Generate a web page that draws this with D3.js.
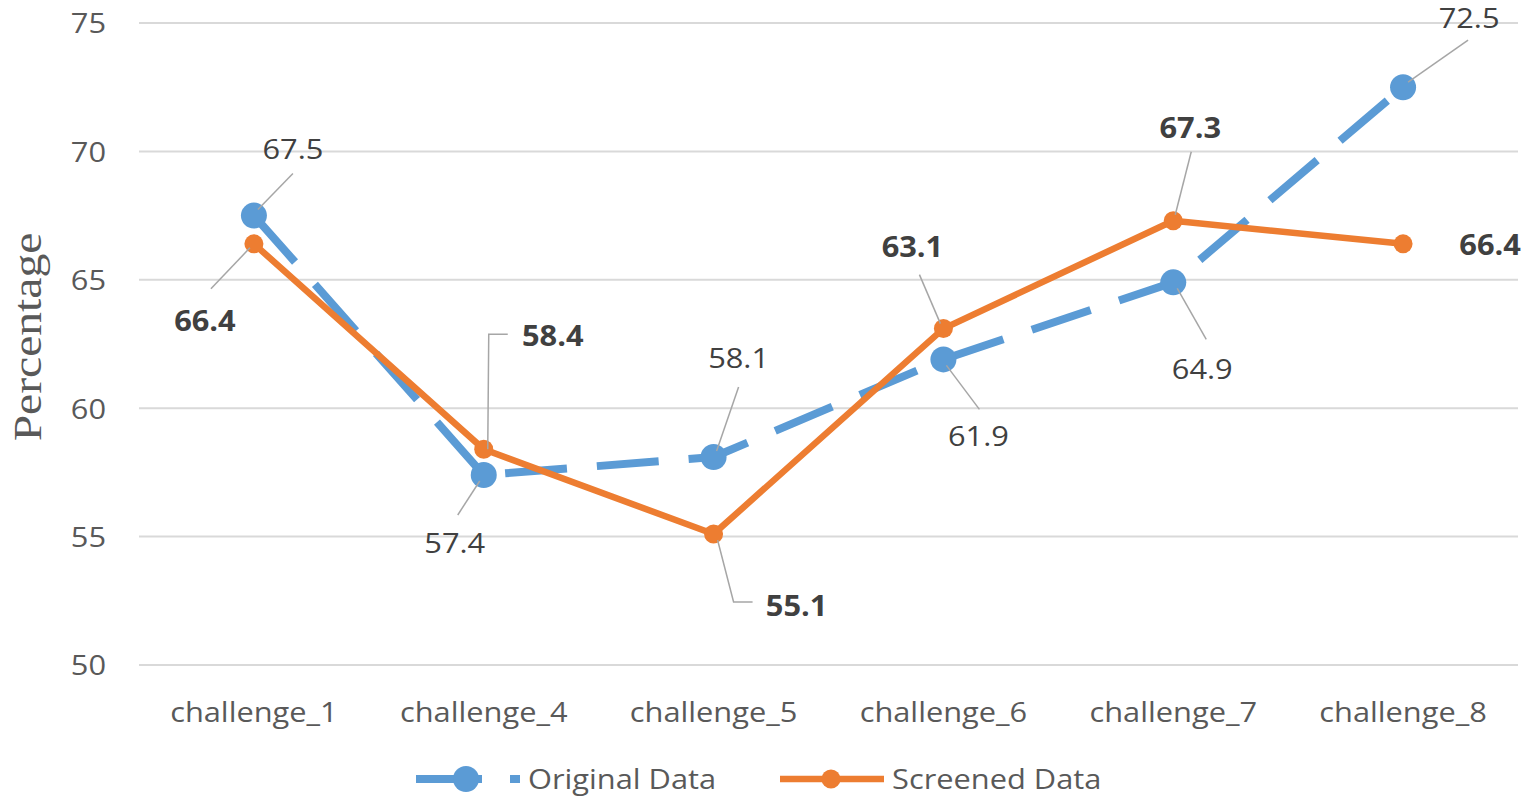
<!DOCTYPE html>
<html lang="en">
<head>
  <meta charset="UTF-8" />
  <title>Original vs Screened Data</title>
  <script src="https://d3js.org/d3.v7.min.js"></script>
  <style>
    body { margin: 0; padding: 0; background: #fff; }
    svg { display: block; }
    .tick text { font-family: "Open Sans", Lato, sans-serif; font-size: 28px; fill: #595959; }
    .lbl { font-family: "Open Sans", Lato, sans-serif; font-size: 28px; fill: #404040; }
    .lbl.bold { font-weight: bold; }
    .leg { font-family: "Open Sans", Lato, sans-serif; font-size: 28px; fill: #595959; }
  </style>
</head>
<body>
<svg width="1535" height="805"></svg>
<script>
  // data
  const categories = ['challenge_1', 'challenge_4', 'challenge_5', 'challenge_6', 'challenge_7', 'challenge_8'];
  const originalData = [67.5, 57.4, 58.1, 61.9, 64.9, 72.5];
  const screenedData = [66.4, 58.4, 55.1, 63.1, 67.3, 66.4];
  const yTicks = [50, 55, 60, 65, 70, 75];

  // label offsets from each point: text dx/dy and leader path as offsets
  const originalLabelPos = [
    { dx: 39, dy: -66, leader: [[4, -6], [39, -42]] },
    { dx: -29, dy: 68, leader: [[-4, 6], [-26, 40]] },
    { dx: 25, dy: -99, leader: [[3, -6], [25, -70]] },
    { dx: 35, dy: 77, leader: [[3, 6], [36, 50]] },
    { dx: 29, dy: 87, leader: [[4, 6], [33, 57]] },
    { dx: 66, dy: -69, leader: [[5, -5], [65, -47]] }
  ];
  const screenedLabelPos = [
    { dx: -49, dy: 77, leader: [[-4, 4], [-43, 45]] },
    { dx: 69, dy: -113, leader: [[4, 0], [5, -115], [24, -115]] },
    { dx: 83, dy: 72, leader: [[4, 6], [20, 68], [39, 68]] },
    { dx: -31, dy: -81, leader: [[-3, -5], [-24, -54]] },
    { dx: 17, dy: -93, leader: [[2, -6], [18, -69]] },
    { dx: 87, dy: 1, leader: null }
  ];

  const SX = 1.1; // the source font runs wider than Open Sans

  const svg = d3.select('svg');
  const M = { left: 139, right: 1518, top: 23, bottom: 665 };

  const x = d3.scaleBand().domain(categories).range([M.left, M.right]);
  const y = d3.scaleLinear().domain([50, 75]).range([M.bottom, M.top]);
  const cx = d => x(d) + x.bandwidth() / 2;

  // grid
  svg.append('g').selectAll('line').data(yTicks).enter().append('line')
    .attr('x1', M.left).attr('x2', M.right)
    .attr('y1', d => y(d)).attr('y2', d => y(d))
    .attr('stroke', '#d9d9d9').attr('stroke-width', 2);

  // y axis
  const yAxis = svg.append('g').attr('transform', `translate(${M.left - 33},0)`)
    .call(d3.axisLeft(y).tickValues(yTicks).tickSize(0).tickPadding(0));
  yAxis.select('.domain').remove();
  yAxis.selectAll('.tick text').attr('dy', '0.35em').attr('transform', `scale(${SX},1)`);

  // x axis
  const xAxis = svg.append('g').attr('transform', `translate(0,${M.bottom + 37})`)
    .call(d3.axisBottom(x).tickSize(0).tickPadding(0));
  xAxis.select('.domain').remove();
  xAxis.selectAll('.tick text').attr('dy', '0.7em').attr('transform', `scale(${SX},1)`);

  // y title
  svg.append('text')
    .attr('transform', `translate(41,337) rotate(-90) scale(1.19,1)`)
    .attr('text-anchor', 'middle')
    .style('font-family', '"Liberation Serif", "Times New Roman", serif')
    .style('font-size', '40px').style('fill', '#595959')
    .text('Percentage');

  const line = d3.line().x((d, i) => cx(categories[i])).y(d => y(d));

  // original (blue, dashed)
  svg.append('path').datum(originalData)
    .attr('d', line).attr('fill', 'none')
    .attr('stroke', '#5b9bd5').attr('stroke-width', 8)
    .attr('stroke-dasharray', '62,30').attr('stroke-linejoin', 'round');

  // screened (orange, solid)
  svg.append('path').datum(screenedData)
    .attr('d', line).attr('fill', 'none')
    .attr('stroke', '#ed7d31').attr('stroke-width', 6.5).attr('stroke-linejoin', 'round');

  svg.append('g').selectAll('circle').data(originalData).enter().append('circle')
    .attr('cx', (d, i) => cx(categories[i])).attr('cy', d => y(d))
    .attr('r', 13).attr('fill', '#5b9bd5');

  svg.append('g').selectAll('circle').data(screenedData).enter().append('circle')
    .attr('cx', (d, i) => cx(categories[i])).attr('cy', d => y(d))
    .attr('r', 9.5).attr('fill', '#ed7d31');

  // data labels with leader lines
  function drawLabels(values, pos, bold) {
    const g = svg.append('g');
    values.forEach((v, i) => {
      const px = cx(categories[i]), py = y(v), p = pos[i];
      if (p.leader) {
        g.append('path')
          .attr('d', d3.line()(p.leader.map(o => [px + o[0], py + o[1]])))
          .attr('fill', 'none').attr('stroke', '#a6a6a6').attr('stroke-width', 1.5);
      }
      g.append('text')
        .attr('class', bold ? 'lbl bold' : 'lbl')
        .attr('transform', `translate(${px + p.dx},${py + p.dy}) scale(${SX},1)`)
        .attr('text-anchor', 'middle').attr('dy', '0.35em')
        .text(v.toFixed(1));
    });
  }
  drawLabels(originalData, originalLabelPos, false);
  drawLabels(screenedData, screenedLabelPos, true);

  // legend
  const ly = 779;
  const leg = svg.append('g');
  leg.append('line').attr('x1', 416).attr('x2', 520).attr('y1', ly).attr('y2', ly)
    .attr('stroke', '#5b9bd5').attr('stroke-width', 8).attr('stroke-dasharray', '66,28');
  leg.append('circle').attr('cx', 466).attr('cy', ly).attr('r', 13).attr('fill', '#5b9bd5');
  leg.append('text').attr('class', 'leg')
    .attr('transform', `translate(528,${ly}) scale(${SX},1)`).attr('dy', '0.35em').text('Original Data');

  leg.append('line').attr('x1', 780).attr('x2', 884).attr('y1', ly).attr('y2', ly)
    .attr('stroke', '#ed7d31').attr('stroke-width', 6.5);
  leg.append('circle').attr('cx', 831).attr('cy', ly).attr('r', 9.5).attr('fill', '#ed7d31');
  leg.append('text').attr('class', 'leg')
    .attr('transform', `translate(892,${ly}) scale(${SX},1)`).attr('dy', '0.35em').text('Screened Data');
</script>
</body>
</html>
